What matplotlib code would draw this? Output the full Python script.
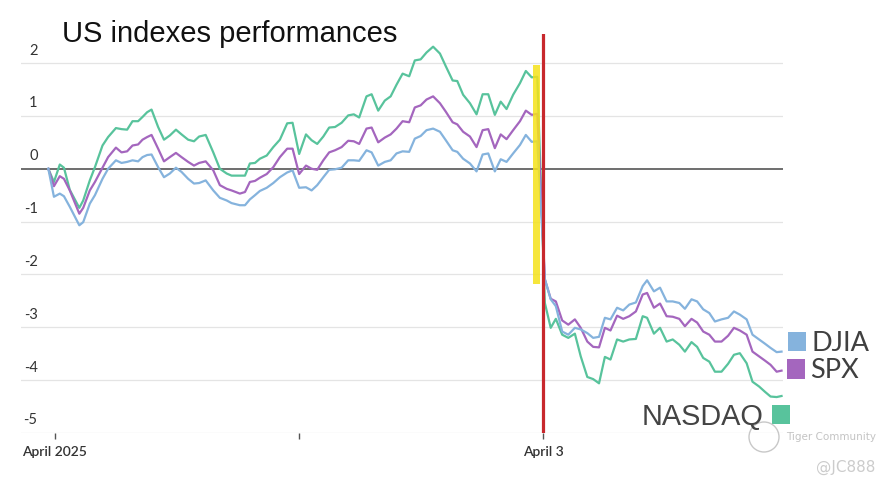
import matplotlib
matplotlib.use("Agg")
import matplotlib.pyplot as plt
import matplotlib.transforms as mtransforms
from matplotlib.patches import Rectangle, Ellipse

# ---------------- data ----------------
# time in trading days relative to the "April 2025" tick (April 3 = 2)
time_pre = [-0.027, -0.004, 0.020, 0.037, 0.061, 0.100, 0.116, 0.143, 0.164, 0.195,
            0.218, 0.250, 0.273, 0.296, 0.318, 0.341, 0.359, 0.378, 0.396, 0.423,
            0.447, 0.471, 0.496, 0.519, 0.546, 0.570, 0.591, 0.618, 0.649, 0.676,
            0.704, 0.724, 0.758,
            0.779, 0.799, 0.820, 0.840, 0.868, 0.895, 0.922, 0.952, 0.974, 1.001,
            1.029, 1.052, 1.075, 1.100, 1.124, 1.148, 1.175, 1.202, 1.225, 1.247,
            1.277, 1.298, 1.325, 1.352, 1.376, 1.400, 1.425, 1.452, 1.475, 1.499,
            1.523, 1.550, 1.578, 1.602, 1.630, 1.649, 1.673, 1.701, 1.728, 1.753,
            1.776, 1.803, 1.827, 1.851, 1.878, 1.906, 1.930, 1.954, 1.977]
time_post = [2.008, 2.032, 2.053, 2.079, 2.104, 2.131, 2.155, 2.182, 2.206, 2.230,
             2.254, 2.277, 2.304, 2.329, 2.354, 2.381, 2.409, 2.427, 2.455, 2.480,
             2.507, 2.532, 2.559, 2.582, 2.609, 2.632, 2.657, 2.682, 2.705, 2.732,
             2.759, 2.783, 2.807, 2.835, 2.859, 2.886, 2.910, 2.933, 2.958, 2.978]

nasdaq = [0, -0.25, 0.08, 0.02, -0.4, -0.74, -0.6, -0.22, 0.03, 0.44, 0.6, 0.77, 0.75,
          0.74, 0.9, 0.9, 0.98, 1.07, 1.12, 0.79, 0.55, 0.63, 0.74, 0.65, 0.55, 0.52,
          0.61, 0.64, 0.31, 0, -0.09, -0.13, -0.13,
          -0.13, 0.1, 0.11, 0.19, 0.25, 0.41, 0.55, 0.86, 0.87, 0.28, 0.65, 0.54, 0.47,
          0.61, 0.78, 0.79, 0.87, 1.01, 1.03, 0.97,
          1.37, 1.41, 1.1, 1.29, 1.37, 1.59, 1.8, 1.75, 2.05, 2.07, 2.2, 2.31, 2.18,
          1.94, 1.67, 1.66, 1.4, 1.24, 1.03, 1.41, 1.41, 1.02, 1.27, 1.13, 1.4, 1.62,
          1.85, 1.73, 1.74,
          -2.54, -3.01, -2.84, -3.14, -3.2, -3.12, -3.55, -3.94, -3.98, -4.06, -3.56,
          -3.61, -3.23, -3.27, -3.23, -3.22, -2.79, -2.82, -3.12, -3.01, -3.27, -3.23,
          -3.33, -3.46, -3.28, -3.37, -3.58, -3.65, -3.84, -3.84, -3.69, -3.52, -3.49,
          -3.68, -4.03, -4.12, -4.22, -4.31, -4.32, -4.3]

spx = [0, -0.33, -0.14, -0.19, -0.41, -0.85, -0.74, -0.41, -0.25, 0.02, 0.22, 0.4, 0.31,
       0.33, 0.44, 0.46, 0.55, 0.6, 0.64, 0.38, 0.14, 0.22, 0.3, 0.22, 0.13, 0.06, 0.11,
       0.14, -0.03, -0.31, -0.38, -0.41, -0.47,
       -0.44, -0.25, -0.23, -0.17, -0.1, 0.03, 0.22, 0.38, 0.38, -0.1, 0.06, 0, -0.02,
       0.16, 0.31, 0.35, 0.41, 0.53, 0.52, 0.47,
       0.76, 0.78, 0.5, 0.59, 0.65, 0.76, 0.9, 0.88, 1.16, 1.2, 1.31, 1.37, 1.24, 1.08,
       0.88, 0.84, 0.7, 0.61, 0.41, 0.73, 0.75, 0.39, 0.65, 0.56, 0.73, 0.9, 1.1, 1.02,
       1.04,
       -2.09, -2.46, -2.51, -2.87, -2.95, -2.85, -3.01, -3.27, -3.37, -3.38, -3.01, -3.06,
       -2.78, -2.84, -2.79, -2.7, -2.38, -2.35, -2.63, -2.55, -2.79, -2.8, -2.84, -2.98,
       -2.84, -2.91, -3.08, -3.14, -3.27, -3.27, -3.16, -3.01, -3.06, -3.14, -3.46, -3.55,
       -3.63, -3.71, -3.84, -3.82]

djia = [0, -0.53, -0.47, -0.52, -0.72, -1.07, -1.01, -0.66, -0.5, -0.19, 0, 0.16, 0.11,
        0.13, 0.16, 0.14, 0.22, 0.26, 0.27, 0.03, -0.16, -0.09, 0.02, -0.06, -0.19, -0.28,
        -0.27, -0.22, -0.41, -0.55, -0.6, -0.65, -0.69,
        -0.69, -0.58, -0.5, -0.42, -0.36, -0.27, -0.16, -0.07, -0.03, -0.36, -0.35, -0.41,
        -0.31, -0.16, -0.02, -0.01, 0.02, 0.16, 0.16, 0.15,
        0.35, 0.31, 0.06, 0.13, 0.16, 0.29, 0.33, 0.32, 0.57, 0.62, 0.73, 0.76, 0.7, 0.54,
        0.35, 0.32, 0.19, 0.1, -0.05, 0.27, 0.29, -0.05, 0.18, 0.13, 0.29, 0.45, 0.64,
        0.51, 0.52,
        -2.09, -2.47, -2.6, -3.08, -3.14, -3.01, -3.04, -3.11, -3.2, -3.18, -2.82, -2.85,
        -2.63, -2.68, -2.57, -2.53, -2.22, -2.11, -2.32, -2.25, -2.51, -2.51, -2.54, -2.65,
        -2.47, -2.51, -2.66, -2.73, -2.89, -2.85, -2.82, -2.7, -2.76, -2.85, -3.14, -3.23,
        -3.31, -3.39, -3.47, -3.46]

series_names = ["NASDAQ", "SPX", "DJIA"]
y_ticks = [2, 1, 0, -1, -2, -3, -4, -5]
y_tick_labels = ["2", "1", "0", "-1", "-2", "-3", "-4", "-5"]
x_ticks = [0, 1, 2]
x_tick_labels = ["April 2025", "", "April 3"]
event_day = 2
highlight_span = (1.959, 1.989, -2.19, 1.96)

# ---------------- style ----------------
colors = {"NASDAQ": "#58c39c", "SPX": "#a466be", "DJIA": "#85b3dd"}
TEXT = "#333333"
W, H = 892, 487

fig = plt.figure(figsize=(W / 100, H / 100), dpi=100)
fig.patch.set_facecolor("white")
ax = fig.add_axes([21 / W, 54 / H, 762 / W, 399 / H])
ax.set_xlim(-0.139, 2.984)
ax.set_ylim(-5, 2.55)

for s in ax.spines.values():
    s.set_visible(False)

# gridlines
for yv in y_ticks:
    if yv == 0:
        ax.axhline(yv, color="#555555", lw=1.2, zorder=2)
    else:
        ax.axhline(yv, color="#e4e4e4", lw=0.9, zorder=1)

time_all = time_pre + time_post
data = {"NASDAQ": nasdaq, "SPX": spx, "DJIA": djia}
for name in series_names:
    ax.plot(time_all, data[name], color=colors[name], lw=1.6, zorder=3,
            solid_joinstyle="round")

# highlight and event line
x0, x1, yb, yt = highlight_span
ax.add_patch(Rectangle((x0, yb), x1 - x0, yt - yb, facecolor="#f5e21a",
                       edgecolor="none", alpha=0.85, zorder=4))
ax.axvline(event_day, color="#c8282d", lw=2.3, zorder=5)

# y tick labels above gridlines
trans = mtransforms.blended_transform_factory(ax.transAxes, ax.transData)
for yv, lab in zip(y_ticks, y_tick_labels):
    ax.annotate(lab, xy=(0.0217, yv), xycoords=trans, xytext=(0, 4),
                textcoords="offset points", ha="right", va="bottom",
                fontsize=10.5, family=["Lato", "DejaVu Sans"], color=TEXT)
ax.set_yticks([])

ax.set_xticks(x_ticks)
ax.set_xticklabels(x_tick_labels, family=["Lato", "DejaVu Sans"],
                   fontweight="semibold", fontsize=10, color=TEXT)
ax.tick_params(axis="x", length=4, width=1, color="#555555", pad=5)

# title
fig.text(62 / W, 1 - 41.7 / H, "US indexes performances",
         family=["Liberation Sans", "DejaVu Sans"], fontsize=21, color="#111111",
         ha="left", va="baseline")

# legend-like labels
def sq(xl, yt_px, w, h, c):
    fig.add_artist(Rectangle((xl / W, 1 - (yt_px + h) / H), w / W, h / H,
                             transform=fig.transFigure, facecolor=c, edgecolor="none"))

sq(788, 331.5, 18, 19.5, colors["DJIA"])
fig.text(811 / W, 1 - 351 / H, "DJIA", family=["Lato", "DejaVu Sans"],
         fontsize=19.5, color="#404040", ha="left", va="baseline")
sq(787, 359, 18, 19.5, colors["SPX"])
fig.text(810 / W, 1 - 378 / H, "SPX", family=["Lato", "DejaVu Sans"],
         fontsize=19.5, color="#404040", ha="left", va="baseline")
sq(771.5, 405, 18, 19, colors["NASDAQ"])
fig.text(764 / W, 1 - 425.5 / H, "NASDAQ", family=["Liberation Sans", "DejaVu Sans"],
         fontsize=20.8, color="#444444", ha="right", va="baseline")

# watermark
fig.add_artist(Ellipse((764 / W, 1 - 437 / H), 30 / W, 30 / H, transform=fig.transFigure,
                       facecolor="none", edgecolor="#c8c8c8", lw=1.0))
fig.text(786 / W, 1 - 437 / H, "Tiger Community", family=["DejaVu Sans"],
         fontsize=7.5, color="#c4c4c4", ha="left", va="center")
fig.text(875 / W, 1 - 467 / H, "@JC888", family=["DejaVu Sans"],
         fontsize=11, color="#cccccc", ha="right", va="center")

fig.savefig("out.png", dpi=100, facecolor="white")
